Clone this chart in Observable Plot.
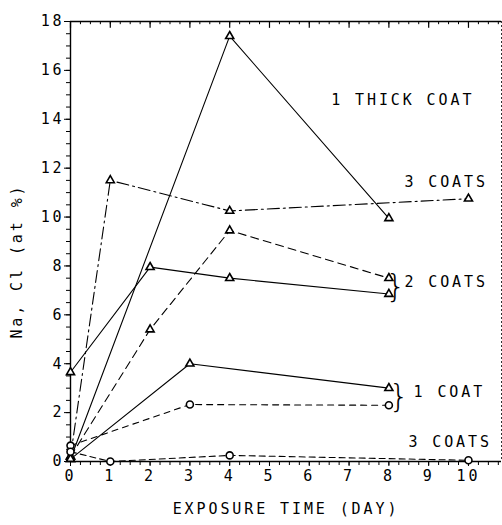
<!DOCTYPE html>
<html>
<head>
<meta charset="utf-8">
<script src="https://cdn.jsdelivr.net/npm/d3@7"></script>
<script src="https://cdn.jsdelivr.net/npm/@observablehq/plot@0.6"></script>
<style>
  html, body { margin: 0; padding: 0; background: #fff; }
  #chart svg { display: block; }
</style>
</head>
<body>
<div id="chart"></div>
<script>
// ---- data ----
const thickX = [0, 4, 8];
const thickY = [0.1, 17.4, 9.95];

const threeTriX = [0, 1, 4, 10];
const threeTriY = [0.2, 11.5, 10.25, 10.75];

const twoSolidX = [0, 2, 4, 8];
const twoSolidY = [3.65, 7.95, 7.5, 6.85];

const twoDashX = [0, 2, 4, 8];
const twoDashY = [0.2, 5.4, 9.45, 7.5];

const oneSolidX = [0, 3, 8];
const oneSolidY = [0.1, 4.0, 3.0];

const oneCircX = [0, 3, 8];
const oneCircY = [0.65, 2.33, 2.3];

const threeCircX = [0, 1, 4, 10];
const threeCircY = [0.4, 0.0, 0.25, 0.05];

const xTickLabels = [0, 1, 2, 3, 4, 5, 6, 7, 8, 9, 10];
const yTickLabels = [0, 2, 4, 6, 8, 10, 12, 14, 16, 18];
const xMinorTicks = d3.range(0, 10.76, 0.25);
const yMinorTicks = d3.range(0, 18.01, 0.5);

const labelText = ["1 THICK COAT", "3 COATS", "2 COATS", "1 COAT", "3 COATS"];
const labelX = [6.55, 8.39, 8.39, 8.62, 8.49];
const labelY = [14.77, 11.42, 7.32, 2.82, 0.78];

const braceX = [8.21, 8.29];
const braceY = [7.15, 2.65];

const yTitle = "Na, Cl (at %)";
const yTitlePos = 8.2;
const xTitle = "EXPOSURE TIME (DAY)";

const xMax = 10.83;
const yMax = 18;

const zip = (xs, ys) => xs.map((x, i) => ({x, y: ys[i]}));

const font = "'DejaVu Sans Mono', monospace";

function series(xs, ys, dash, symbol, r) {
  const data = zip(xs, ys);
  return [
    Plot.line(data, {x: "x", y: "y", stroke: "black", strokeWidth: 1.1, strokeDasharray: dash}),
    Plot.dot(data, {x: "x", y: "y", symbol, r, stroke: "black", strokeWidth: 1.6, fill: "white"})
  ];
}

const chart = Plot.plot({
  width: 502,
  height: 525,
  marginLeft: 70,
  marginRight: 1,
  marginTop: 21,
  marginBottom: 64,
  style: {fontFamily: font, fontSize: "15px", color: "black", background: "white", letterSpacing: "2.9px"},
  x: {domain: [0, xMax]},
  y: {domain: [0, yMax]},
  marks: [
    // minor ticks
    Plot.axisX({ticks: xMinorTicks, tickSize: 4, text: null, label: null}),
    Plot.axisY({ticks: yMinorTicks, tickSize: 4, text: null, label: null}),
    Plot.ruleX(xMinorTicks, {x: d => d, y1: yMax, y2: yMax - 0.13, strokeWidth: 1}),
    Plot.ruleX(xTickLabels, {x: d => d, y1: yMax, y2: yMax - 0.28, strokeWidth: 1.2}),
    // major ticks + labels
    Plot.axisX({ticks: xTickLabels, tickSize: 5, tickPadding: 4, label: xTitle, labelArrow: "none",
                labelAnchor: "center", labelOffset: 52, tickFormat: d => String(d)}),
    Plot.axisY({ticks: yTickLabels, tickSize: 6, tickPadding: 0, label: null,
                tickFormat: d => String(d)}),
    Plot.text([yTitle], {x: 0, y: yTitlePos, rotate: -90, dx: -53, text: d => d,
                         fontSize: 15, letterSpacing: "1px", fill: "black"}),
    // frame
    Plot.ruleX([0], {strokeWidth: 1.4}),
    Plot.ruleY([0], {strokeWidth: 1.6}),
    Plot.ruleY([yMax], {strokeWidth: 1.4}),
    Plot.ruleX([xMax], {strokeWidth: 0.8, strokeDasharray: "2,2"}),
    // series
    ...series(thickX, thickY, null, "triangle", 3),
    ...series(threeTriX, threeTriY, "12,4,2,4", "triangle", 3),
    ...series(twoSolidX, twoSolidY, null, "triangle", 3),
    ...series(twoDashX, twoDashY, "8,5", "triangle", 3),
    ...series(oneSolidX, oneSolidY, null, "triangle", 3),
    ...series(oneCircX, oneCircY, "6,5", "circle", 3.5),
    ...series(threeCircX, threeCircY, "6,4", "circle", 3.5),
    // annotations
    Plot.text(labelText, {x: (d, i) => labelX[i], y: (d, i) => labelY[i], text: d => d,
                          textAnchor: "start", fontSize: 15, letterSpacing: "3.2px", fill: "black"}),
    Plot.text(braceX, {x: d => d, y: (d, i) => braceY[i], text: () => "}",
                       fontSize: 32, fontWeight: 200, fontFamily: "'DejaVu Sans'", fill: "black", letterSpacing: "0px"})
  ]
});
document.getElementById("chart").appendChild(chart);
</script>
</body>
</html>
